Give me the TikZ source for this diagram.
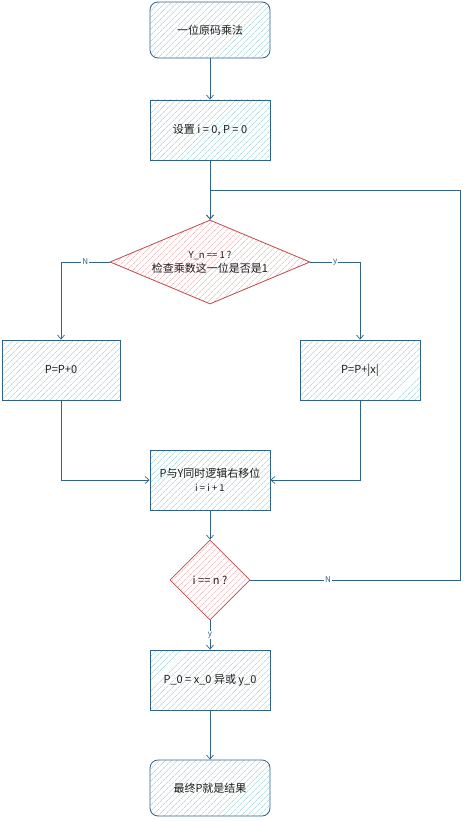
\documentclass[tikz,border=0pt]{standalone}
\usepackage{fontspec}
\setmainfont{Noto Sans CJK SC}
\usetikzlibrary{shapes.geometric,arrows.meta,patterns.meta}
\definecolor{boxline}{RGB}{47,99,138}
\definecolor{boxhatch}{RGB}{140,206,212}
\definecolor{decline}{RGB}{192,72,72}
\definecolor{dechatch}{RGB}{240,165,165}
\definecolor{ink}{RGB}{30,30,30}
\begin{document}
\begin{tikzpicture}[x=1pt,y=-1pt,font=\fontsize{11}{14}\selectfont,text=ink,
  stepbox/.style={rectangle,draw=boxline,line width=.8pt,minimum width=120pt,minimum height=60pt,inner sep=2pt,align=center,pattern={Lines[angle=45,distance=4pt,line width=.5pt]},pattern color=boxhatch},
  endbox/.style={stepbox,rounded corners=8pt,minimum height=56pt},
  test/.style={diamond,draw=decline,line width=.8pt,inner sep=0,align=center,pattern={Lines[angle=45,distance=4pt,line width=.5pt]},pattern color=dechatch},
  flow/.style={draw=boxline,line width=.7pt,-{Straight Barb[length=4pt,width=7pt]}},
  lbl/.style={fill=white,inner sep=1pt,text=boxline,font=\fontsize{8}{9}\selectfont}]
\useasboundingbox (0,0) rectangle (469,821);
% boxes
\node[endbox](start)at(210,30){一位原码乘法};
\node[stepbox](init)at(210,130){设置 i = 0, P = 0};
\node[test,aspect=2.4,minimum width=200pt,minimum height=84pt](d1)at(210,262){{\fontsize{9.5}{12}\selectfont Y\_n == 1 ?}\\检查乘数这一位是否是1};
\node[stepbox,minimum width=118pt](p0)at(61,370){P=P+0};
\node[stepbox](px)at(360,370){P=P+|x|};
\node[stepbox](shift)at(210,480){P与Y同时逻辑右移位\\{\fontsize{9.5}{12}\selectfont i = i + 1}};
\node[test,minimum width=80pt,minimum height=80pt](d2)at(210,580){i == n ?};
\node[stepbox](xor)at(210,680){P\_0 = x\_0 异或 y\_0};
\node[endbox](stop)at(210,788){最终P就是结果};
\coordinate(loop)at(460,190);
% connectors
\draw[flow](start)--(init);
\draw[flow](init)--(d1);
\draw[flow](d1.west)-|node[pos=.25,lbl]{N}(p0.north);
\draw[flow](d1.east)-|node[pos=.25,lbl]{y}(px.north);
\draw[flow](p0.south)|-(shift.west);
\draw[flow](px.south)|-(shift.east);
\draw[flow](shift)--(d2);
\draw[flow](d2.east)-|node[pos=.185,lbl]{N}(loop)-|(d1.north);
\draw[flow](d2.south)--node[lbl]{y}(xor.north);
\draw[flow](xor)--(stop);
\end{tikzpicture}
\end{document}
